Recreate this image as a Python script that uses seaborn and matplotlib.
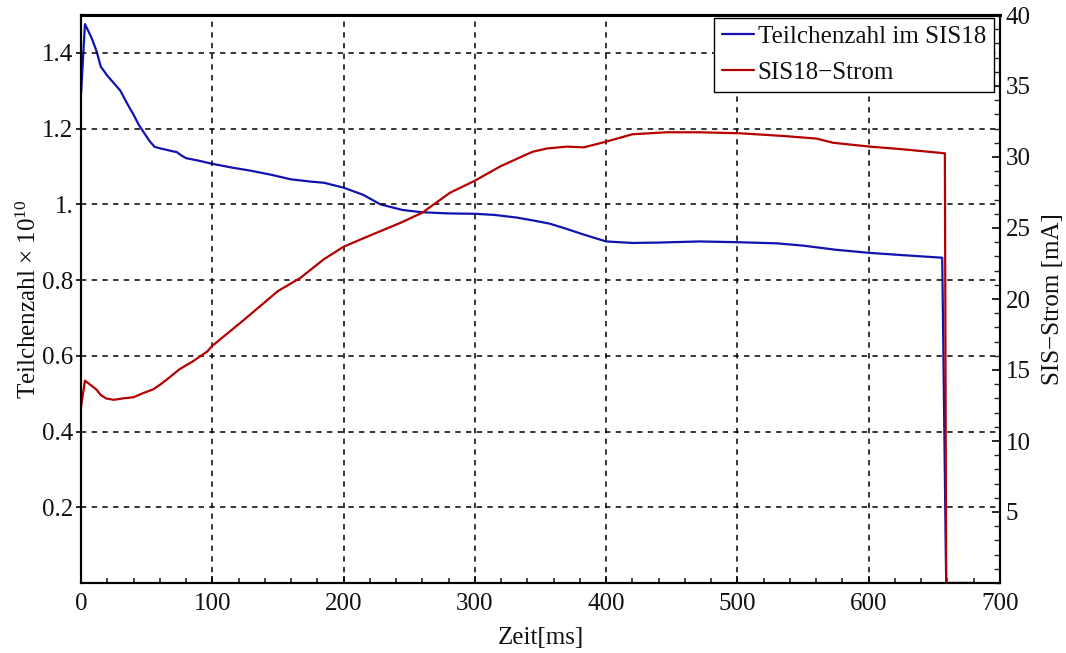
import matplotlib
matplotlib.use("Agg")
import matplotlib.pyplot as plt
import seaborn as sns
import pandas as pd
from matplotlib.ticker import MultipleLocator, FixedLocator, FixedFormatter

# ---- data ----
t_blue = [0, 3, 8, 12, 15, 20, 25, 30, 33, 37, 40, 44, 48, 52, 56, 60, 65, 70, 73, 76,
          80, 90, 100, 115, 129, 145, 160, 175, 185, 200, 215, 228, 245, 260, 280, 300,
          315, 332, 345, 357, 370, 383, 400, 420, 440, 471, 500, 530, 550, 575, 600, 625,
          656, 659, 678]
n_blue = [1.29, 1.476, 1.44, 1.403, 1.364, 1.34, 1.32, 1.30, 1.28, 1.255, 1.237, 1.21,
          1.189, 1.168, 1.152, 1.148, 1.144, 1.14, 1.138, 1.13, 1.122, 1.115, 1.107, 1.097,
          1.089, 1.078, 1.066, 1.06, 1.057, 1.044, 1.025, 1.0, 0.985, 0.979, 0.976, 0.975,
          0.972, 0.965, 0.957, 0.949, 0.935, 0.92, 0.902, 0.898, 0.899, 0.902, 0.9, 0.897,
          0.891, 0.88, 0.872, 0.866, 0.859, 0.0, 0.0]

t_red = [0, 3, 8, 12, 15, 19, 25, 32, 40, 47, 55, 60, 65, 75, 85, 96, 100, 125, 150, 167,
         185, 200, 218, 243, 260, 281, 300, 319, 335, 344, 355, 370, 383, 400, 420, 446,
         471, 502, 535, 560, 573, 601, 624, 658, 659, 678]
i_red = [12.37, 14.25, 13.9, 13.6, 13.24, 13.0, 12.9, 13.0, 13.08, 13.36, 13.64, 13.95,
         14.3, 15.05, 15.6, 16.29, 16.7, 18.6, 20.56, 21.48, 22.8, 23.68, 24.39, 25.35,
         26.08, 27.48, 28.33, 29.32, 30.0, 30.37, 30.6, 30.73, 30.68, 31.08, 31.6, 31.74,
         31.74, 31.67, 31.48, 31.3, 31.0, 30.73, 30.56, 30.26, 0.0, 0.0]

x_ticks = [0, 100, 200, 300, 400, 500, 600, 700]
left_ticks = [0.2, 0.4, 0.6, 0.8, 1.0, 1.2, 1.4]
left_labels = ["0.2", "0.4", "0.6", "0.8", "1.", "1.2", "1.4"]
right_ticks = [5, 10, 15, 20, 25, 30, 35, 40]
right_labels = ["5", "10", "15", "20", "25", "30", "35", "40"]

label_blue = "Teilchenzahl im SIS18"
label_red = "SIS18\u2212Strom"

BLUE = "#1212b0"
RED = "#b40000"

sns.set_theme(style="white")
plt.rcParams["font.family"] = ["Liberation Serif", "DejaVu Serif"]
plt.rcParams["mathtext.fontset"] = "custom"
plt.rcParams["mathtext.rm"] = "Liberation Serif"
plt.rcParams["mathtext.it"] = "Liberation Serif:italic"
plt.rcParams["font.size"] = 18
plt.rcParams["text.color"] = "#111111"
plt.rcParams["axes.labelcolor"] = "#111111"

fig = plt.figure(figsize=(10.66, 6.53), dpi=100)
ax = fig.add_axes([81 / 1066, 1 - 583 / 653, 919 / 1066, 568 / 653])
ax2 = ax.twinx()

df_b = pd.DataFrame({"t": t_blue, "v": n_blue})
df_r = pd.DataFrame({"t": t_red, "v": i_red})
sns.lineplot(data=df_b, x="t", y="v", ax=ax, color=BLUE, linewidth=1.6, legend=False)
sns.lineplot(data=df_r, x="t", y="v", ax=ax2, color=RED, linewidth=1.6, legend=False)

ax.set_xlim(0, 700)
ax.set_ylim(0, 1.5)
ax2.set_ylim(0, 40)

ax.xaxis.set_major_locator(FixedLocator(x_ticks))
ax.xaxis.set_minor_locator(MultipleLocator(20))
ax.yaxis.set_major_locator(FixedLocator(left_ticks))
ax.yaxis.set_major_formatter(FixedFormatter(left_labels))
ax2.yaxis.set_major_locator(FixedLocator(right_ticks))
ax2.yaxis.set_major_formatter(FixedFormatter(right_labels))
ax2.yaxis.set_minor_locator(MultipleLocator(1))

ax.tick_params(axis="x", which="major", direction="in", length=5, width=1.2,
               pad=7, labelsize=18, colors="black", labelcolor="#111111",
               bottom=True, top=False)
ax.tick_params(axis="x", which="minor", direction="in", length=3.5, width=1.2,
               bottom=True, top=False)
ax.tick_params(axis="y", which="major", direction="out", length=3.5, width=1.2,
               pad=2, labelsize=18, colors="black", labelcolor="#111111",
               left=True, right=False)
ax2.tick_params(axis="y", which="major", direction="in", length=6, width=1.2,
                pad=4, labelsize=18, colors="black", labelcolor="#111111",
                right=True, left=False)
ax2.tick_params(axis="y", which="minor", direction="in", length=4, width=1.0,
                right=True, left=False)

ax.grid(True, which="major", axis="both", color="black",
        linestyle=(0, (3.5, 3.5)), linewidth=1.1)
ax.set_axisbelow(False)

for a in (ax, ax2):
    for s in a.spines.values():
        s.set_color("black")
        s.set_linewidth(1.5)
        s.set_visible(True)
ax2.spines["top"].set_linewidth(2.2)

ax.set_xlabel("Zeit[ms]", fontsize=18, labelpad=9)
ax.set_ylabel("Teilchenzahl \u00d7 10$^{10}$", fontsize=18, labelpad=1)
ax2.set_ylabel("SIS\u2212Strom [mA]", fontsize=18, labelpad=8)

h1 = ax.lines[0]
h2 = ax2.lines[0]
leg = ax2.legend([h1, h2], [label_blue, label_red], loc="upper right",
                 bbox_to_anchor=(0.993, 0.995), borderaxespad=0, fontsize=18,
                 handlelength=1.3, handletextpad=0.15, borderpad=0.3,
                 labelspacing=0.55, fancybox=False, framealpha=1, edgecolor="black")
leg.get_frame().set_linewidth(1.0)

fig.savefig("out.png", dpi=100)
